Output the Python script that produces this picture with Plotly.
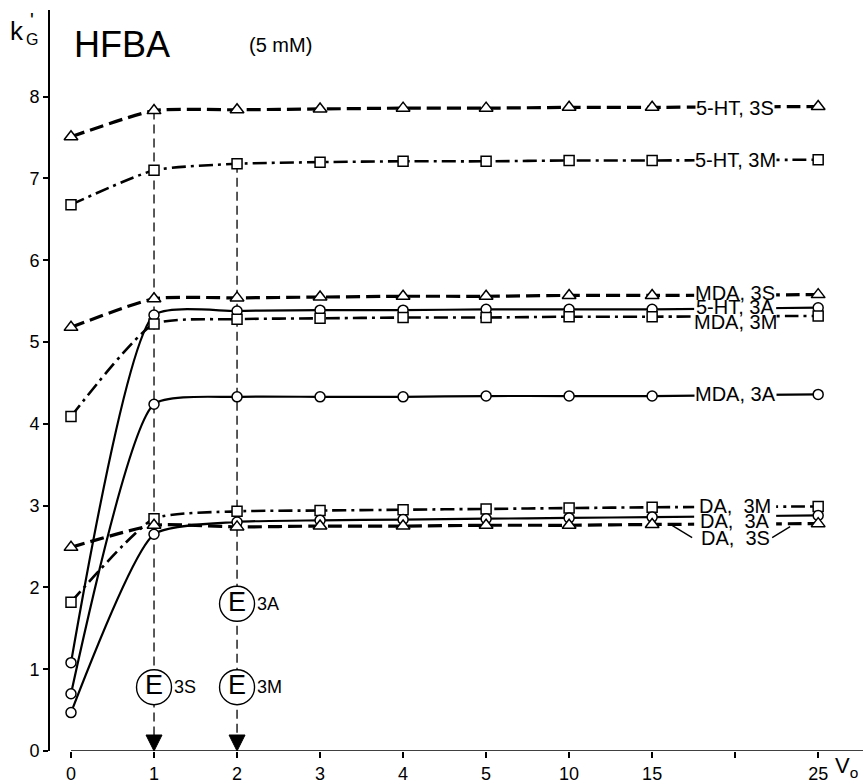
import plotly.graph_objects as go

# ---- data ----
x_all = ["0", "1", "2", "3", "4", "5", "10", "15", "20", "25"]
x_ticktext = ["0", "1", "2", "3", "4", "5", "10", "15", "", "25"]
x_meas = ["0", "1", "2", "3", "4", "5", "10", "15", "25"]

ht5_3S = [7.51, 7.83, 7.84, 7.85, 7.86, 7.86, 7.87, 7.87, 7.88]
ht5_3M = [6.68, 7.10, 7.18, 7.20, 7.21, 7.21, 7.22, 7.22, 7.23]
ht5_3A = [1.08, 5.33, 5.38, 5.39, 5.39, 5.40, 5.40, 5.40, 5.42]
mda_3S = [5.18, 5.53, 5.54, 5.55, 5.56, 5.56, 5.57, 5.57, 5.58]
mda_3M = [4.09, 5.22, 5.28, 5.29, 5.30, 5.30, 5.31, 5.31, 5.32]
mda_3A = [0.70, 4.24, 4.33, 4.33, 4.33, 4.34, 4.34, 4.34, 4.36]
da_3M = [1.82, 2.84, 2.93, 2.94, 2.95, 2.96, 2.97, 2.98, 2.99]
da_3A = [0.47, 2.65, 2.80, 2.82, 2.83, 2.84, 2.85, 2.86, 2.88]
da_3S = [2.49, 2.76, 2.74, 2.75, 2.75, 2.76, 2.76, 2.77, 2.78]

series_names = ["5-HT, 3S", "5-HT, 3M", "5-HT, 3A", "MDA, 3S", "MDA, 3M", "MDA, 3A",
                "DA,  3M", "DA,  3A", "DA,  3S"]
series_vals = [ht5_3S, ht5_3M, ht5_3A, mda_3S, mda_3M, mda_3A, da_3M, da_3A, da_3S]
series_kind = ["S", "M", "A", "S", "M", "A", "M", "A", "S"]
label_y = [7.86, 7.23, 5.43, 5.60, 5.25, 4.37, 3.00, 2.81, 2.61]
label_alone = [True, True, False, False, False, True, False, False, False]
label_pos = 8  # index of the unlabeled "20" column

# elution markers (E): column, k' level
e_x = ["1", "2", "2"]
e_y = [0.78, 1.80, 0.78]
e_txt = ["3S", "3A", "3M"]
guide_x = ["1", "2"]
guide_top = [7.83, 7.18]

FONT = "Liberation Sans Narrow, Arial Narrow, Liberation Sans, Arial, sans-serif"

style = {
    "S": dict(dash="14px,6px", width=3.2, symbol="triangle-up", msize=12),
    "M": dict(dash="14px,5px,3px,5px", width=2.6, symbol="square", msize=10),
    "A": dict(dash="solid", width=2.2, symbol="circle", msize=10),
}

fig = go.Figure()

# vertical guide lines
for gx, gt in zip(guide_x, guide_top):
    fig.add_trace(go.Scatter(x=[gx, gx], y=[gt, 0], mode="lines",
                             line=dict(color="black", width=1.3, dash="9px,5px"),
                             hoverinfo="skip", showlegend=False))

for name, vals, kind in zip(series_names, series_vals, series_kind):
    st = style[kind]
    fig.add_trace(go.Scatter(
        x=x_meas, y=vals, mode="lines+markers", name=name,
        line=dict(color="black", width=st["width"], dash=st["dash"],
                  shape="spline", smoothing=0.55),
        marker=dict(symbol=st["symbol"], size=st["msize"], color="white",
                    line=dict(color="black", width=1.5)),
        showlegend=False))

# E circles
fig.add_trace(go.Scatter(x=e_x, y=e_y, mode="markers+text", text=["E"] * len(e_x),
                         textposition="middle center",
                         textfont=dict(family=FONT, size=27, color="black"),
                         marker=dict(symbol="circle", size=35, color="white",
                                     line=dict(color="black", width=1.4)),
                         showlegend=False, hoverinfo="skip"))

annotations = []
for name, ly, alone in zip(series_names, label_y, label_alone):
    a = dict(x=label_pos, y=ly, xref="x", yref="y", text=name,
             showarrow=False, borderpad=0, xanchor="center", yanchor="middle",
             font=dict(family=FONT, size=20, color="black"))
    if alone:
        a["bgcolor"] = "white"
    annotations.append(a)
for ex, ey, et in zip(e_x, e_y, e_txt):
    annotations.append(dict(x=ex, y=ey, xref="x", yref="y", text=et, showarrow=False,
                            xanchor="left", yanchor="middle", xshift=18,
                            font=dict(family=FONT, size=18, color="black")))

# titles (positions in paper coordinates)
def t(x, y, text, size, xanchor="center"):
    return dict(x=x, y=y, xref="paper", yref="paper", text=text, showarrow=False,
                xanchor=xanchor, yanchor="middle",
                font=dict(family=FONT, size=size, color="black"))

annotations += [
    t(0.0886, 0.953, "HFBA", 36),
    t(0.283, 0.953, "(5 mM)", 20),
    t(-0.040, 0.972, "k", 26),
    t(-0.022, 0.987, "'", 20),
    t(-0.022, 0.960, "G", 16),
    t(0.963, -0.022, "V<sub>o</sub>", 22, xanchor="left"),
]

shapes = [dict(type="line", xref="x", yref="y", x0=0, x1=9.6, y0=0, y1=0,
               line=dict(color="black", width=1.6))]
for gx in guide_x:
    shapes.append(dict(type="path", xref="x", yref="y", xsizemode="pixel",
                       ysizemode="pixel", xanchor=gx, yanchor=0,
                       path="M-8,16 L8,16 L0,0 Z", fillcolor="black",
                       line=dict(color="black", width=1)))
# white backing behind the stacked label groups
for yc, hb, ht in [(label_y[2], 24, 22), (label_y[7], 21, 22)]:
    shapes.append(dict(type="rect", xref="x", yref="y", xsizemode="pixel",
                       ysizemode="pixel", xanchor=label_pos, yanchor=yc,
                       x0=-41, x1=41, y0=-hb, y1=ht, fillcolor="white",
                       line=dict(width=0), layer="above"))
# leader lines for the "DA, 3S" label
shapes.append(dict(type="line", xref="x", yref="y", xsizemode="pixel", ysizemode="pixel",
                   xanchor=label_pos, yanchor=label_y[-1], x0=-66, y0=14, x1=-43, y1=0,
                   line=dict(color="black", width=1.4)))
shapes.append(dict(type="line", xref="x", yref="y", xsizemode="pixel", ysizemode="pixel",
                   xanchor=label_pos, yanchor=label_y[-1], x0=37, y0=0, x1=55, y1=11,
                   line=dict(color="black", width=1.4)))

fig.update_layout(
    width=863, height=784,
    margin=dict(l=50, r=0, t=10, b=31),
    plot_bgcolor="white", paper_bgcolor="white",
    font=dict(family=FONT, size=17, color="black"),
    xaxis=dict(type="category", categoryorder="array", categoryarray=x_all,
               range=[-0.253, 9.54], tickvals=x_all, ticktext=x_ticktext,
               showline=False, showgrid=False, zeroline=False,
               ticks="outside", ticklen=6, tickwidth=1.5, tickcolor="black",
               tickfont=dict(family=FONT, size=18)),
    yaxis=dict(range=[0, 9.06], tickvals=list(range(9)),
               showline=True, linewidth=1.6, linecolor="black",
               showgrid=False, zeroline=False,
               ticks="outside", ticklen=5, tickwidth=1.5, tickcolor="black",
               tickfont=dict(family=FONT, size=18)),
    annotations=annotations, shapes=shapes,
)

fig.write_html("out.html")
